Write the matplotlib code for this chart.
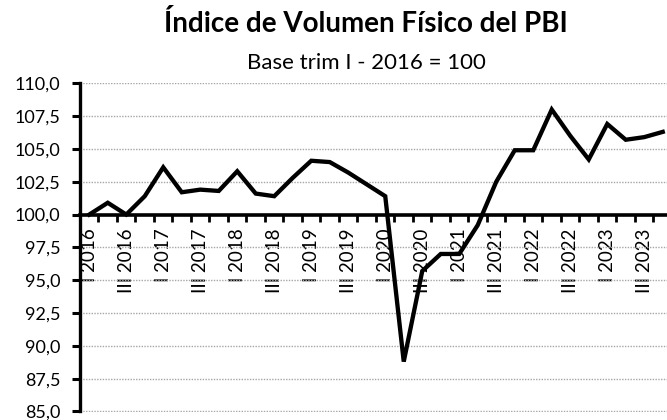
import numpy as np
import matplotlib
matplotlib.use("Agg")
import matplotlib.pyplot as plt
from matplotlib.ticker import FixedLocator, FuncFormatter

plt.rcParams['font.family'] = ['Lato', 'DejaVu Sans']

# quarterly index, base I 2016 = 100
trimestres = ['I', 'II', 'III', 'IV']
anios = [2016, 2017, 2018, 2019, 2020, 2021, 2022, 2023]
indice = [100.0, 100.9, 100.0, 101.4, 103.6, 101.7, 101.9, 101.8,
          103.3, 101.6, 101.4, 102.8, 104.1, 104.0, 103.2, 102.3,
          101.4, 88.8, 95.7, 97.0, 97.0, 99.2, 102.5, 104.9,
          104.9, 108.0, 106.0, 104.2, 106.9, 105.7, 105.9, 106.3]

etiquetas = [f"{t} {a}" for a in anios for t in trimestres]
x = np.arange(len(indice))

fig = plt.figure(figsize=(6.67, 4.2), dpi=100)
ax = fig.add_axes([80/667, 1-411.5/420, (667-80)/667, (411.5-83.3)/420])

ax.plot(x, indice, color='black', lw=3.1, solid_joinstyle='miter', zorder=3, clip_on=False)

ax.set_ylim(85, 110)
ax.set_xlim(-0.5, 31.23)
ax.set_yticks(np.arange(85, 110.1, 2.5))
ax.yaxis.set_major_formatter(FuncFormatter(lambda v, p: f"{v:.1f}".replace('.', ',')))
ax.grid(axis='y', color='#a6a6a6', lw=1, linestyle=(0, (1, 1)))
ax.set_axisbelow(True)

for s in ['top', 'right']:
    ax.spines[s].set_visible(False)
ax.spines['left'].set_linewidth(2.4)
ax.spines['bottom'].set_linewidth(2.6)
ax.spines['bottom'].set_position(('data', 100))
ax.spines['bottom'].set_zorder(4)

# ticks between quarters, labels every other quarter
ax.xaxis.set_major_locator(FixedLocator(np.arange(-0.5, 32, 1)))
ax.xaxis.set_major_formatter(FuncFormatter(lambda v, p: ''))
ax.xaxis.set_minor_locator(FixedLocator(x[::2]))
ax.set_xticklabels(etiquetas[::2], minor=True, rotation=90, va='top', ha='center')
ax.tick_params(axis='x', which='major', direction='out', length=5, width=2)
ax.tick_params(axis='x', which='minor', length=0, pad=10, labelsize=13.5)
ax.tick_params(axis='y', direction='out', length=6, width=2.2, pad=8, labelsize=13)

fig.text(0.549, 0.945, "Índice de Volumen Físico del PBI", ha='center', va='center',
         fontsize=20, fontweight='bold')
fig.text(0.549, 0.85, "Base trim I - 2016 = 100", ha='center', va='center', fontsize=16)

fig.savefig('out.png', dpi=100)
